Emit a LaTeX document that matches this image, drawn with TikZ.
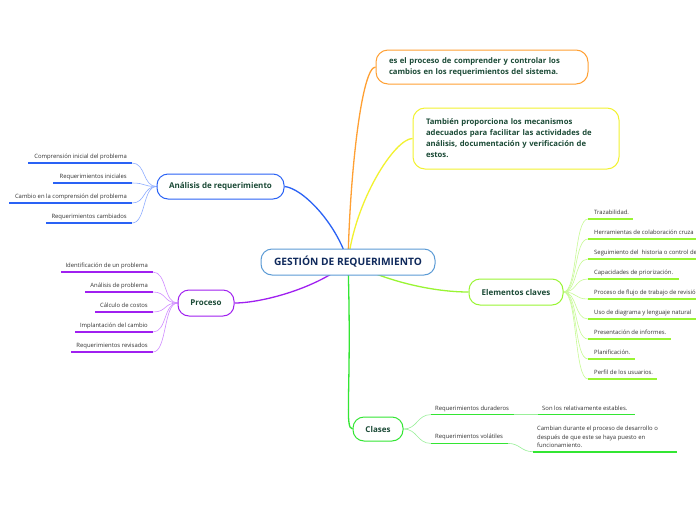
\documentclass[tikz,border=0pt]{standalone}
\usepackage{fontspec}
\setmainfont{Open Sans}
\usetikzlibrary{backgrounds}
\definecolor{rootc}{HTML}{5B9BD5}
\definecolor{roottxt}{HTML}{102A5C}
\definecolor{nodetxt}{HTML}{1B4A36}
\definecolor{leaftxt}{HTML}{333333}
\definecolor{blueB}{HTML}{2A62F5}
\definecolor{blueL}{HTML}{8FAEFF}
\definecolor{purB}{HTML}{A020F0}
\definecolor{purL}{HTML}{D08CFF}
\definecolor{orgB}{HTML}{FFA033}
\definecolor{yelB}{HTML}{F2F230}
\definecolor{lgB}{HTML}{99F533}
\definecolor{lgL}{HTML}{C8FA96}
\definecolor{grB}{HTML}{33E633}
\definecolor{grL}{HTML}{99F099}
\begin{document}
\begin{tikzpicture}[x=1pt,y=-1pt,
  box/.style={draw, rounded corners=11pt, fill=white, line width=1pt, inner sep=0pt, align=center, text=nodetxt, font=\bfseries\fontsize{8}{9.6}\selectfont},
  txtbox/.style={draw, rounded corners=12pt, fill=white, line width=1pt, inner ysep=0pt, align=left, text=nodetxt, font=\bfseries\fontsize{7.7}{10.8}\selectfont},
  leaf/.style={inner sep=0pt, text=leaftxt, font=\fontsize{5.9}{8.6}\selectfont},
  ul/.style={line width=1.6pt},
  br/.style={line width=1.3pt},
  tw/.style={line width=0.6pt}
]
\clip (0,0) rectangle (696,520);

% main nodes
\node[box, draw=rootc, text=roottxt, minimum width=174, minimum height=26, font=\bfseries\fontsize{10.2}{12}\selectfont] (root) at (348,262) {GESTIÓN DE REQUERIMIENTO};
\node[txtbox, draw=orgB, minimum width=212, minimum height=34, text width=186, inner xsep=13] (org) at (482,67) {es el proceso de comprender y controlar los\\cambios en los requerimientos del sistema.};
\node[txtbox, draw=yelB, minimum width=206, minimum height=61, text width=180, inner xsep=13, font=\bfseries\fontsize{7.7}{11}\selectfont] (yel) at (516,138.5) {También proporciona los mecanismos\\adecuados para facilitar las actividades de\\análisis, documentación y verificación de\\estos.};
\node[box, draw=blueB, minimum width=127, minimum height=25] (ana) at (220.5,186.5) {Análisis de requerimiento};
\node[box, draw=purB, minimum width=56, minimum height=26] (pro) at (206,303) {Proceso};
\node[box, draw=lgB, minimum width=94, minimum height=26] (ele) at (516,292) {Elementos claves};
\node[box, draw=grB, minimum width=50, minimum height=24] (cla) at (378,429) {Clases};

% ---- Analisis leaves
\foreach \i/\y/\xl/\t in {1/163/28/Comprensión inicial del problema, 2/183/53/Requerimientos iniciales, 3/203/9/Cambio en la comprensión del problema, 4/223/46/Requerimientos cambiados}{
  \coordinate (a\i l) at (\xl,\y);
  \coordinate (a\i r) at (132,\y);
  \node[leaf, anchor=base east] (at\i) at (127,\y-4.5) {\t};
  \draw[ul, blueB] (a\i l) -- (a\i r);
}
% ---- Proceso leaves
\foreach \i/\y/\xl/\t in {1/272/61/Identificación de un problema, 2/292/85/Análisis de problema, 3/312/95/Cálculo de costos, 4/332/75/Implantación del cambio, 5/352/71/Requerimientos revisados}{
  \coordinate (p\i l) at (\xl,\y);
  \coordinate (p\i r) at (153,\y);
  \node[leaf, anchor=base east] (pt\i) at (148,\y-4.5) {\t};
  \draw[ul, purB] (p\i l) -- (p\i r);
}
% ---- Elementos leaves
\foreach \i/\y/\xr/\t in {1/219/633/Trazabilidad., 2/239/700/Herramientas de colaboración cruza, 3/259/700/Seguimiento del \ historia o control de, 4/279/679/Capacidades de priorización., 5/299/700/Proceso de flujo de trabajo de revisió, 6/319/700/Uso de diagrama y lenguaje natural, 7/339/671/Presentación de informes., 8/359/635/Planificación., 9/379/657/Perfil de los usuarios.}{
  \coordinate (e\i l) at (588,\y);
  \coordinate (e\i r) at (\xr,\y);
  \node[leaf, anchor=base west] (et\i) at (594,\y-4.5) {\t};
  \draw[ul, lgB] (e\i l) -- (e\i r);
}
% ---- Clases leaves
\coordinate (c1l) at (431,414.6); \coordinate (c1r) at (514,414.6);
\coordinate (c2l) at (431,443.4); \coordinate (c2r) at (508,443.4);
\coordinate (c3l) at (538,414.6); \coordinate (c3r) at (635,414.6);
\coordinate (c4l) at (533,451.7); \coordinate (c4r) at (677,451.7);
\node[leaf, anchor=base west] (ct1) at (435,410.1) {Requerimientos duraderos};
\node[leaf, anchor=base west] (ct2) at (435,438.9) {Requerimientos volátiles};
\node[leaf, anchor=base west] (ct3) at (542,410.1) {Son los relativamente estables.};
\node[leaf, anchor=south west, align=left, inner ysep=0pt] (ct4) at (537,448) {Cambian durante el proceso de desarrollo o\\después de que este se haya puesto en\\funcionamiento.};
\draw[ul, grB] (c1l) -- (c1r);
\draw[ul, grB] (c2l) -- (c2r);
\draw[ul, grB] (c3l) -- (c3r);
\draw[ul, grB] (c4l) -- (c4r);

\begin{scope}[on background layer]
  \fill[white] (0,0) rectangle (696,520);
  % main branches
  \draw[br, blueB] (root.center) .. controls (336,222) and (302,188) .. (ana.east);
  \draw[br, orgB] (root.center) .. controls (350,170) and (362,67) .. (org.west);
  \draw[br, yelB] (root.center) .. controls (355,200) and (395,138.5) .. (yel.west);
  \draw[br, purB] (root.center) .. controls (318,288) and (262,303) .. (pro.east);
  \draw[br, lgB] (root.center) .. controls (395,285) and (440,292) .. (ele.west);
  \draw[br, grB] (root.center) .. controls (352,390) and (344,429) .. (cla.west);
  % leaf connectors
  \foreach \i in {1,2,3,4}{\draw[tw, blueL] (ana.west) .. controls +(-14,0) and +(14,0) .. (a\i r);}
  \foreach \i in {1,2,3,4,5}{\draw[tw, purL] (pro.west) .. controls +(-14,0) and +(14,0) .. (p\i r);}
  \foreach \i in {1,...,9}{\draw[tw, lgL] (ele.east) .. controls +(14,0) and +(-14,0) .. (e\i l);}
  \draw[tw, grL] (cla.east) .. controls +(14,0) and +(-14,0) .. (c1l);
  \draw[tw, grL] (cla.east) .. controls +(14,0) and +(-14,0) .. (c2l);
  \draw[tw, grL] (c1r) -- (c3l);
  \draw[tw, grL] (c2r) .. controls +(12,0) and +(-12,0) .. (c4l);
\end{scope}
\end{tikzpicture}
\end{document}
